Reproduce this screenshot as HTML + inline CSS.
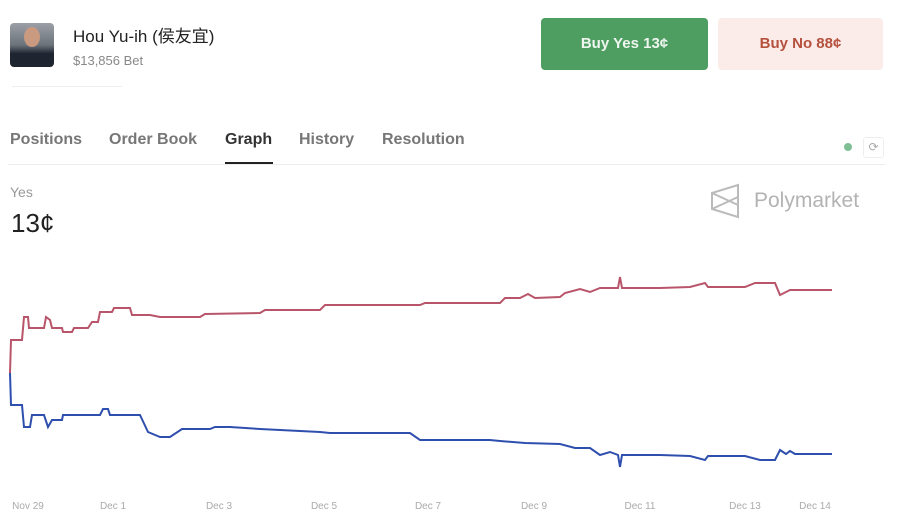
<!DOCTYPE html>
<html><head><meta charset="utf-8"><style>
body{margin:0;width:900px;height:522px;background:#fff;font-family:"Liberation Sans","Noto Sans CJK TC",sans-serif;position:relative;overflow:hidden}
.a{position:absolute}
</style></head><body>
<div class="a" style="left:10px;top:23px;width:44px;height:44px;border-radius:4px;background:linear-gradient(#9aa0a6,#6d737a 50%,#1e2430 70%)"></div>
<div class="a" style="left:24px;top:27px;width:16px;height:20px;border-radius:50%;background:#c99a80"></div>
<div class="a" style="left:73px;top:22px;font-size:17px;color:#222">Hou Yu-ih (侯友宜)</div>
<div class="a" style="left:73px;top:53px;font-size:13px;color:#888">$13,856 Bet</div>
<div class="a" style="left:12px;top:86px;width:110px;height:1px;background:#eee"></div>
<div class="a" style="left:541px;top:18px;width:167px;height:52px;border-radius:4px;background:#4e9e62;color:#eef6ef;font-size:15px;font-weight:bold;text-align:center;line-height:52px">Buy Yes 13¢</div>
<div class="a" style="left:718px;top:18px;width:165px;height:52px;border-radius:4px;background:#fbecea;color:#b5503c;font-size:15px;font-weight:bold;text-align:center;line-height:52px">Buy No 88¢</div>
<div class="a" style="top:131px;left:10px;font-size:16px;color:#777;font-weight:bold">Positions</div>
<div class="a" style="top:131px;left:109px;font-size:16px;color:#777;font-weight:bold">Order Book</div>
<div class="a" style="top:131px;left:225px;font-size:16px;color:#333;font-weight:bold">Graph</div>
<div class="a" style="top:131px;left:299px;font-size:16px;color:#777;font-weight:bold">History</div>
<div class="a" style="top:131px;left:382px;font-size:16px;color:#777;font-weight:bold">Resolution</div>
<div class="a" style="left:225px;top:162px;width:48px;height:2px;background:#222"></div>
<div class="a" style="left:8px;top:164px;width:877px;height:1px;background:#eee"></div>
<div class="a" style="left:844px;top:143px;width:8px;height:8px;border-radius:50%;background:#7fbf95"></div>
<div class="a" style="left:863px;top:137px;width:19px;height:19px;border:1px solid #eee;border-radius:3px;color:#aaa;font-size:12px;text-align:center;line-height:19px">⟳</div>
<div class="a" style="left:10px;top:184px;font-size:14px;color:#999">Yes</div>
<div class="a" style="left:11px;top:208px;font-size:26px;color:#222">13¢</div>
<svg class="a" style="left:710px;top:183px" width="32" height="36" viewBox="0 0 32 36"><path d="M2,10 L28,2 L28,34 L2,26 Z M2,10 L28,22 M2,26 L28,14" fill="none" stroke="#bbb" stroke-width="2"/></svg>
<div class="a" style="left:754px;top:189px;font-size:21px;color:#b3b3b3">Polymarket</div>
<svg class="a" style="left:0;top:0" width="900" height="522">
<polyline fill="none" stroke="#b9556a" stroke-width="2" points="10,373 11,340 22,340 24,317 28,317 29,328 44,328 46,317 50,320 52,328 62,328 63,332 72,332 74,328 88,328 92,322 98,322 100,312 112,312 114,308 130,308 132,315 150,315 160,317 200,317 205,314 260,313 265,310 320,310 325,305 420,305 425,303 500,303 505,298 520,298 528,294 535,298 560,297 565,293 580,289 590,292 600,288 618,288 620,277 622,288 660,288 690,287 705,283 708,287 745,287 755,283 775,283 780,295 786,292 790,290 832,290"/>
<polyline fill="none" stroke="#2f4fae" stroke-width="2" points="10,373 11,405 22,405 24,427 30,427 32,415 44,415 48,427 52,420 62,420 63,415 100,415 103,409 108,409 110,415 140,415 148,432 160,437 170,437 182,429 210,429 215,427 230,427 260,429 320,432 330,433 410,433 420,440 490,440 500,441 525,443 560,444 575,448 590,448 600,455 610,452 618,455 620,467 622,455 660,455 690,456 705,460 708,456 745,456 760,460 775,460 780,450 786,454 790,451 795,454 832,454"/>
<g font-size="10" fill="#aaa" text-anchor="middle">
<text x="28" y="509">Nov 29</text><text x="113" y="509">Dec 1</text><text x="219" y="509">Dec 3</text><text x="324" y="509">Dec 5</text><text x="428" y="509">Dec 7</text><text x="534" y="509">Dec 9</text><text x="640" y="509">Dec 11</text><text x="745" y="509">Dec 13</text><text x="815" y="509">Dec 14</text>
</g></svg>
</body></html>
